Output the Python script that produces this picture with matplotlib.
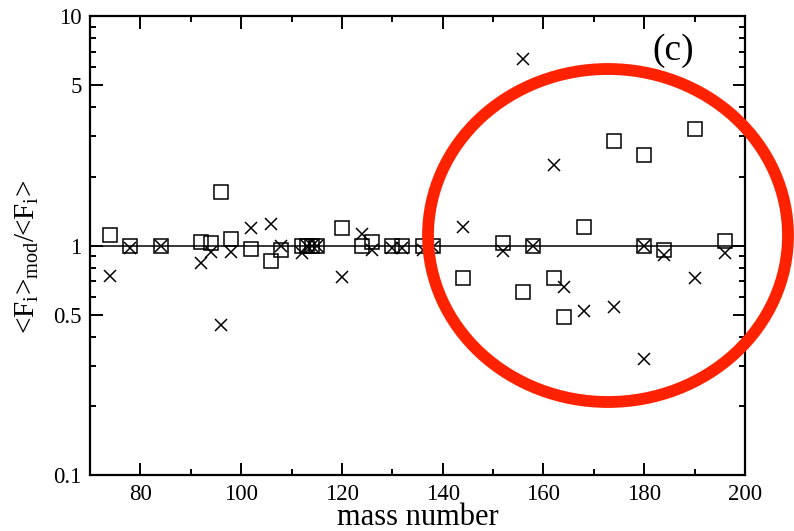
import matplotlib
matplotlib.use("Agg")
import matplotlib.pyplot as plt
from matplotlib.patches import Ellipse
from matplotlib.ticker import FixedLocator, NullFormatter, MultipleLocator

plt.rcParams['font.family'] = ['Liberation Serif', 'DejaVu Serif']
plt.rcParams['mathtext.fontset'] = 'custom'
plt.rcParams['mathtext.rm'] = 'Liberation Serif'
plt.rcParams['mathtext.it'] = 'Liberation Serif:italic'

# squares series
mass_sq = [74, 78, 84, 92, 94, 96, 98, 102, 106, 108, 112, 113, 114, 115, 120, 124, 126,
           130, 132, 136, 138, 144, 152, 156, 158, 162, 164, 168, 174, 180, 180, 184, 190, 196]
ratio_sq = [1.11, 1.0, 1.0, 1.035, 1.025, 1.71, 1.064, 0.965, 0.856, 0.955, 1.0, 1.0, 1.0, 1.0,
            1.19, 1.0, 1.04, 1.0, 1.0, 1.0, 1.0, 0.72, 1.03, 0.63, 1.0, 0.72, 0.49, 1.2,
            2.85, 2.48, 1.0, 0.955, 3.21, 1.05]

# crosses series
mass_cr = [74, 78, 84, 92, 94, 96, 98, 102, 106, 108, 112, 113, 114, 115, 120, 124, 126,
           130, 132, 136, 138, 144, 152, 156, 158, 162, 164, 168, 174, 180, 180, 184, 190, 196]
ratio_cr = [0.74, 0.975, 1.0, 0.84, 0.94, 0.45, 0.94, 1.195, 1.24, 1.0, 0.925, 1.0, 1.0, 1.0,
            0.73, 1.12, 0.955, 0.98, 0.98, 0.955, 0.99, 1.2, 0.95, 6.48, 1.0, 2.24, 0.66,
            0.52, 0.54, 1.0, 0.32, 0.91, 0.72, 0.925]

x_range = [70, 200]
y_range = [0.1, 10]
y_ticks = [0.1, 0.5, 1, 5, 10]
y_ticklabels = ['0.1', '0.5', '1', '5', '10']
x_ticks = [80, 100, 120, 140, 160, 180, 200]

fig = plt.figure(figsize=(7.94, 5.31), dpi=100)
ax = fig.add_axes([90/794, 1-475.3/531, (745-90)/794, (475.3-16)/531])

ax.plot(x_range, [1, 1], color='black', lw=1.1, zorder=1)
ax.plot(mass_sq, ratio_sq, linestyle='none', marker='s', markersize=10,
        markerfacecolor='none', markeredgecolor='black', markeredgewidth=1.1, zorder=3)
ax.plot(mass_cr, ratio_cr, linestyle='none', marker='x', markersize=8.5,
        color='black', markeredgewidth=1.1, zorder=3)

ax.set_yscale('log')
ax.set_xlim(*x_range)
ax.set_ylim(*y_range)
ax.yaxis.set_major_locator(FixedLocator(y_ticks))
ax.set_yticklabels(y_ticklabels)
ax.yaxis.set_minor_locator(FixedLocator([0.2, 0.3, 0.4, 0.6, 0.7, 0.8, 0.9,
                                         2, 3, 4, 6, 7, 8, 9]))
ax.yaxis.set_minor_formatter(NullFormatter())
ax.set_xticks(x_ticks)
ax.xaxis.set_minor_locator(MultipleLocator(10))

for s in ax.spines.values():
    s.set_linewidth(1.6)
ax.tick_params(which='both', direction='in', top=True, right=True, labelsize=16.5, width=1.4)
ax.tick_params(which='major', length=9, pad=6)
ax.tick_params(which='minor', length=4.5)

ax.set_xlabel('mass number', fontsize=22, labelpad=-1)
ax.set_ylabel(r'<F$_\mathregular{i}$>$_\mathregular{mod}$/<F$_\mathregular{i}$>', fontsize=21)
ax.yaxis.set_label_coords(-0.075, 0.475)

ax.text(673/794, 1-51/531, '(c)', transform=fig.transFigure, fontsize=27,
        ha='center', va='center')

ell = Ellipse((608/794, 1-235.5/531), 360/794, 333/531, transform=fig.transFigure,
              fill=False, edgecolor='#ff2200', lw=8.5, zorder=10)
fig.patches.append(ell)

fig.savefig('out.png', dpi=100)
